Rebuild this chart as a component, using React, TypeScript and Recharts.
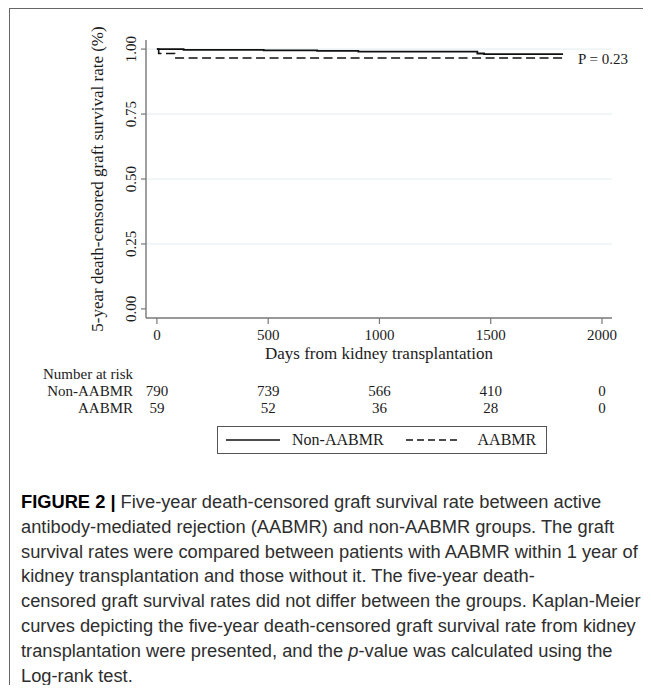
import React from 'react';
import { LineChart, Line, XAxis, YAxis, CartesianGrid, Legend, Customized } from 'recharts';

// ---- data ----
const xTicks = [0, 500, 1000, 1500, 2000];
const yTicks = [0, 0.25, 0.5, 0.75, 1];
const gridValues = [0.25, 0.5, 0.75, 1];

const nonAabmrDays = [0, 120, 480, 720, 905, 1440, 1470, 1825];
const nonAabmrSurv = [1.0, 0.997, 0.995, 0.993, 0.99, 0.983, 0.981, 0.981];

const aabmrDays = [0, 8, 80, 1825];
const aabmrSurv = [1.0, 0.983, 0.966, 0.966];

const riskNonAabmr = [790, 739, 566, 410, 0];
const riskAabmr = [59, 52, 36, 28, 0];

const seriesNames = ['Non-AABMR', 'AABMR'];
const legendDash: Record<string, string | undefined> = { 'Non-AABMR': undefined, AABMR: '7 4' };

const pValueText = 'P = 0.23';
const yTitle = '5-year death-censored graft survival rate (%)';
const xTitle = 'Days from kidney transplantation';
const riskTitle = 'Number at risk';

const captionLines = [
  ['FIGURE 2 |', ' Five-year death-censored graft survival rate between active'],
  ['', 'antibody-mediated rejection (AABMR) and non-AABMR groups. The graft'],
  ['', 'survival rates were compared between patients with AABMR within 1 year of'],
  ['', 'kidney transplantation and those without it. The five-year death-'],
  ['', 'censored graft survival rates did not differ between the groups. Kaplan-Meier'],
  ['', 'curves depicting the five-year death-censored graft survival rate from kidney'],
  ['', 'transplantation were presented, and the |p|-value was calculated using the'],
  ['', 'Log-rank test.'],
];

const nonData = nonAabmrDays.map((d, i) => ({ day: d, surv: nonAabmrSurv[i] }));
const abData = aabmrDays.map((d, i) => ({ day: d, surv: aabmrSurv[i] }));

const SERIF = '"Liberation Serif", "Times New Roman", serif';
const TXT = '#1c1c1c';
const AXIS = '#777';

const XTick = (props: any) => {
  const { x, y, payload } = props;
  const i = xTicks.indexOf(payload.value);
  return (
    <g fontFamily={SERIF} fontSize={15} fill={TXT}>
      <text x={x} y={y + 14} textAnchor="middle">{payload.value}</text>
      <text x={x} y={y + 70} textAnchor="middle">{riskNonAabmr[i]}</text>
      <text x={x} y={y + 87} textAnchor="middle">{riskAabmr[i]}</text>
    </g>
  );
};

const YTick = (props: any) => {
  const { x, y, payload } = props;
  const bx = x - 3;
  return (
    <text
      x={bx}
      y={y}
      transform={`rotate(-90 ${bx} ${y})`}
      textAnchor="middle"
      fontFamily={SERIF}
      fontSize={15}
      fill={TXT}
    >
      {Number(payload.value).toFixed(2)}
    </text>
  );
};

const YTitle = (props: any) => {
  const vb = props.viewBox || { x: 0, y: 32, width: 138, height: 278 };
  const cx = vb.x + 95;
  const cy = vb.y + vb.height / 2;
  return (
    <text
      x={cx}
      y={cy}
      transform={`rotate(-90 ${cx} ${cy})`}
      textAnchor="middle"
      fontFamily={SERIF}
      fontSize={17}
      fill={TXT}
    >
      {yTitle}
    </text>
  );
};

const XTitle = (props: any) => {
  const vb = props.viewBox || { x: 138, y: 310, width: 466, height: 30 };
  const cx = vb.x + vb.width / 2;
  return (
    <g fontFamily={SERIF} fill={TXT}>
      <text x={cx} y={vb.y + 41} textAnchor="middle" fontSize={17}>{xTitle}</text>
      <text x={125} y={vb.y + 61} textAnchor="end" fontSize={15}>{riskTitle}</text>
      <text x={125} y={vb.y + 78} textAnchor="end" fontSize={15}>{seriesNames[0]}</text>
      <text x={125} y={vb.y + 95} textAnchor="end" fontSize={15}>{seriesNames[1]}</text>
    </g>
  );
};

const LegendContent = (props: any) => {
  const items = [...(props.payload || [])].sort(
    (a: any, b: any) => seriesNames.indexOf(a.value) - seriesNames.indexOf(b.value)
  );
  return (
    <div
      style={{
        boxSizing: 'border-box',
        width: 330,
        height: 28,
        border: '1px solid #555',
        display: 'flex',
        alignItems: 'center',
        fontFamily: SERIF,
        fontSize: 16,
        color: TXT,
      }}
    >
      {items.map((it: any, k: number) => (
        <span key={it.value} style={{ display: 'flex', alignItems: 'center', marginLeft: k === 0 ? 8 : 22 }}>
          <svg width={54} height={6} style={{ display: 'block' }}>
            <line x1={0} y1={3} x2={54} y2={3} stroke="#111" strokeWidth={1.3} strokeDasharray={legendDash[it.value]} />
          </svg>
          <span style={{ marginLeft: k === 0 ? 12 : 18, lineHeight: '16px' }}>{it.value}</span>
        </span>
      ))}
    </div>
  );
};

const PLabel = () => (
  <text x={570} y={56} fontFamily={SERIF} fontSize={15} fill={TXT}>
    {pValueText}
  </text>
);

export default function App() {
  return (
    <div style={{ position: 'relative', width: 643, height: 677 }}>
      <style>{`html,body{overflow:hidden}`}</style>
      <div
        style={{
          position: 'absolute',
          left: 1,
          top: 0,
          width: 660,
          height: 700,
          borderTop: '1px solid #666',
          borderLeft: '1px solid #666',
          boxSizing: 'border-box',
        }}
      />
      <div style={{ position: 'absolute', left: 0, top: 0 }}>
        <LineChart width={643} height={460} margin={{ top: 32, right: 39, left: 0, bottom: 120 }}>
          <CartesianGrid vertical={false} horizontalValues={gridValues} stroke="#e2ecef" strokeWidth={1} />
          <XAxis
            type="number"
            dataKey="day"
            domain={[-49, 2045]}
            allowDataOverflow
            ticks={xTicks}
            interval={0}
            height={30}
            tickSize={6}
            tickMargin={2}
            axisLine={{ stroke: AXIS, strokeWidth: 1.4 }}
            tickLine={{ stroke: AXIS, strokeWidth: 1.2 }}
            tick={<XTick />}
            label={(p: any) => <XTitle {...p} />}
          />
          <YAxis
            type="number"
            domain={[-0.035, 1.035]}
            allowDataOverflow
            ticks={yTicks}
            interval={0}
            width={138}
            tickSize={5}
            tickMargin={2}
            axisLine={{ stroke: AXIS, strokeWidth: 1.4 }}
            tickLine={{ stroke: AXIS, strokeWidth: 1.2 }}
            tick={<YTick />}
            label={(p: any) => <YTitle {...p} />}
          />
          <Line
            data={nonData}
            dataKey="surv"
            name={seriesNames[0]}
            type="stepAfter"
            stroke="#111"
            strokeWidth={1.8}
            dot={false}
            activeDot={false}
            isAnimationActive={false}
          />
          <Line
            data={abData}
            dataKey="surv"
            name={seriesNames[1]}
            type="stepAfter"
            stroke="#111"
            strokeWidth={1.6}
            strokeDasharray="9 4.5"
            dot={false}
            activeDot={false}
            isAnimationActive={false}
          />
          <Legend
            layout="horizontal"
            verticalAlign="middle"
            align="center"
            content={LegendContent}
            wrapperStyle={{ position: 'absolute', left: 209, top: 418, width: 330, height: 28, margin: 0, padding: 0 }}
          />
          <Customized component={PLabel} />
        </LineChart>
      </div>
      <div
        style={{
          position: 'absolute',
          left: 13,
          top: 482,
          fontFamily: '"Liberation Sans", Arial, Helvetica, sans-serif',
          fontSize: 18.3,
          lineHeight: '24.8px',
          color: '#2e2e2e',
          whiteSpace: 'nowrap',
        }}
      >
        {captionLines.map(([bold, rest], i) => {
          const parts = rest.split('|');
          return (
            <div key={i}>
              {bold ? <b style={{ color: '#000' }}>{bold}</b> : null}
              {parts.length === 3 ? (
                <>
                  {parts[0]}
                  <i>{parts[1]}</i>
                  {parts[2]}
                </>
              ) : (
                rest
              )}
            </div>
          );
        })}
      </div>
    </div>
  );
}
